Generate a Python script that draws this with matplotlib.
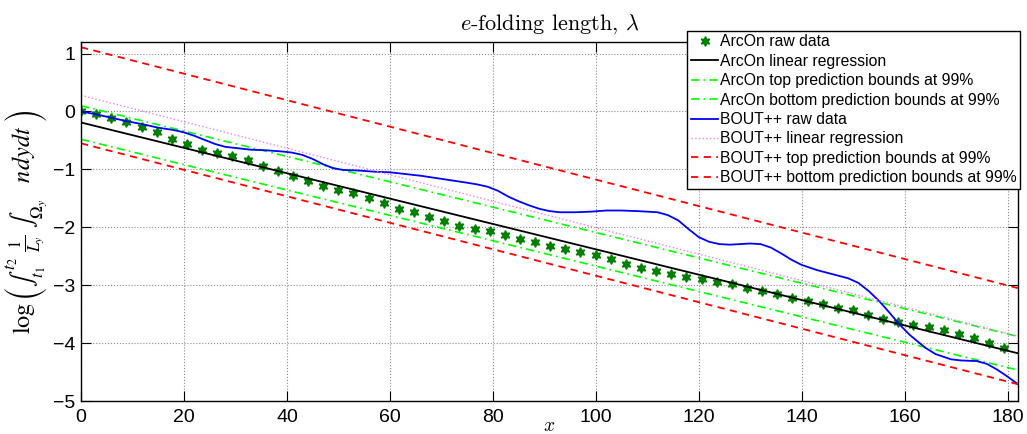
import numpy as np
import matplotlib
matplotlib.use('Agg')
import matplotlib.pyplot as plt

plt.rcParams['font.family'] = ['Liberation Sans', 'DejaVu Sans']
plt.rcParams['mathtext.fontset'] = 'cm'

# ArcOn raw data, sampled every ~2.94 along x
arcon_x = np.arange(62) * 2.94
arcon_y = [0.00, -0.05, -0.12, -0.19, -0.26, -0.36, -0.48, -0.56, -0.66, -0.72,
           -0.77, -0.83, -0.94, -1.03, -1.11, -1.20, -1.29, -1.35, -1.41, -1.49,
           -1.58, -1.68, -1.74, -1.82, -1.89, -1.97, -2.03, -2.07, -2.14, -2.20,
           -2.26, -2.33, -2.38, -2.42, -2.47, -2.55, -2.63, -2.70, -2.76, -2.81,
           -2.85, -2.90, -2.94, -2.98, -3.04, -3.10, -3.15, -3.22, -3.27, -3.33,
           -3.39, -3.43, -3.51, -3.58, -3.63, -3.69, -3.73, -3.78, -3.85, -3.92,
           -4.00, -4.08]

# BOUT++ raw data
bout_x = [0, 3, 6, 9, 12, 15, 18, 20, 22, 24, 26, 28, 30, 33, 36, 39, 41, 43,
          45, 47, 49, 51, 54, 57, 60, 63, 66, 69, 72, 75, 77, 79, 81, 83, 85,
          87, 89, 91, 93, 96, 99, 102, 105, 108, 110, 112, 114, 116, 118, 120,
          122, 124, 126, 128, 130, 132, 134, 136, 138, 140, 143, 146, 149, 151,
          153, 155, 157, 159, 161, 164, 166, 169, 171, 174, 176, 178, 180, 182]
bout_y = [0.00, -0.05, -0.11, -0.17, -0.22, -0.28, -0.32, -0.36, -0.42, -0.49,
          -0.56, -0.61, -0.63, -0.66, -0.67, -0.69, -0.71, -0.75, -0.82, -0.91,
          -0.98, -1.01, -1.02, -1.04, -1.05, -1.08, -1.11, -1.15, -1.19, -1.23,
          -1.26, -1.30, -1.37, -1.47, -1.55, -1.62, -1.68, -1.72, -1.74, -1.74,
          -1.73, -1.71, -1.71, -1.72, -1.73, -1.74, -1.79, -1.88, -2.03, -2.17,
          -2.25, -2.29, -2.30, -2.29, -2.28, -2.29, -2.35, -2.45, -2.56, -2.65,
          -2.74, -2.81, -2.88, -2.96, -3.10, -3.27, -3.47, -3.68, -3.86, -4.08,
          -4.19, -4.28, -4.30, -4.31, -4.36, -4.46, -4.58, -4.71]

# linear fits (intercept, slope) and half-width of the 99% prediction bounds
arcon_fit = (-0.19, -0.0219)
arcon_bound = 0.29
bout_fit = (0.28, -0.02286)
bout_bound = 0.83

x_fit = np.array([0, 182])
arcon_line = arcon_fit[0] + arcon_fit[1] * x_fit
bout_line = bout_fit[0] + bout_fit[1] * x_fit

fig = plt.figure(figsize=(10.27, 4.34), dpi=100)
ax = fig.add_axes([0.0789, 0.076, 0.9123, 0.8272])

ax.plot(arcon_x, arcon_y, linestyle='none', marker=(6, 1, 0), markersize=7,
        color=(0, 0.5, 0), label='ArcOn raw data')
ax.plot(x_fit, arcon_line, color='k', lw=1.3, label='ArcOn linear regression')
ax.plot(x_fit, arcon_line + arcon_bound, color=(0, 1, 0), lw=1.2,
        dashes=(5, 2.5, 1, 2.5), label='ArcOn top prediction bounds at 99%')
ax.plot(x_fit, arcon_line - arcon_bound, color=(0, 1, 0), lw=1.2,
        dashes=(5, 2.5, 1, 2.5), label='ArcOn bottom prediction bounds at 99%')
ax.plot(bout_x, bout_y, color=(0, 0, 1), lw=1.3, label='BOUT++ raw data')
ax.plot(x_fit, bout_line, color='violet', lw=1.0, linestyle=':',
        label='BOUT++ linear regression')
ax.plot(x_fit, bout_line + bout_bound, color=(1, 0, 0), lw=1.3,
        dashes=(4, 3), label='BOUT++ top prediction bounds at 99%')
ax.plot(x_fit, bout_line - bout_bound, color=(1, 0, 0), lw=1.3,
        dashes=(4, 3), label='BOUT++ bottom prediction bounds at 99%')

ax.set_xlim(0, 182)
ax.set_ylim(-5, 1.2)
ax.set_xticks(np.arange(0, 181, 20))
ax.set_yticks(np.arange(-5, 2, 1))
ax.grid(True, color='0.55', linestyle=':', linewidth=0.8)
ax.tick_params(direction='in', length=7, width=0.8, top=True, right=True,
               labelsize=14)
ax.tick_params(axis='x', pad=6)
ax.tick_params(axis='y', pad=4)
for s in ax.spines.values():
    s.set_linewidth(1.0)

ax.set_title(r'$e$-folding length, $\lambda$', fontsize=16, pad=9,
             family='cmr10')
ax.set_ylabel(r'$\log\left(\int_{t_1}^{t_2}\ \frac{1}{L_y}\ \int_{\Omega_y}\quad ndydt\ \right)$',
              fontsize=17.5, labelpad=2, math_fontfamily='stix')
ax.set_xlabel(r'$x$', fontsize=14, labelpad=-6)

leg = ax.legend(loc='upper right', bbox_to_anchor=(1020 / 1027, 1 - 31 / 434),
                bbox_transform=fig.transFigure, fontsize=11.3, numpoints=1,
                handlelength=1.75, handletextpad=0.1, labelspacing=0.28,
                borderpad=0.22, borderaxespad=0, fancybox=False, framealpha=1)
leg.get_frame().set_edgecolor('k')
leg.get_frame().set_linewidth(1.0)

fig.savefig('out.png', dpi=100)
